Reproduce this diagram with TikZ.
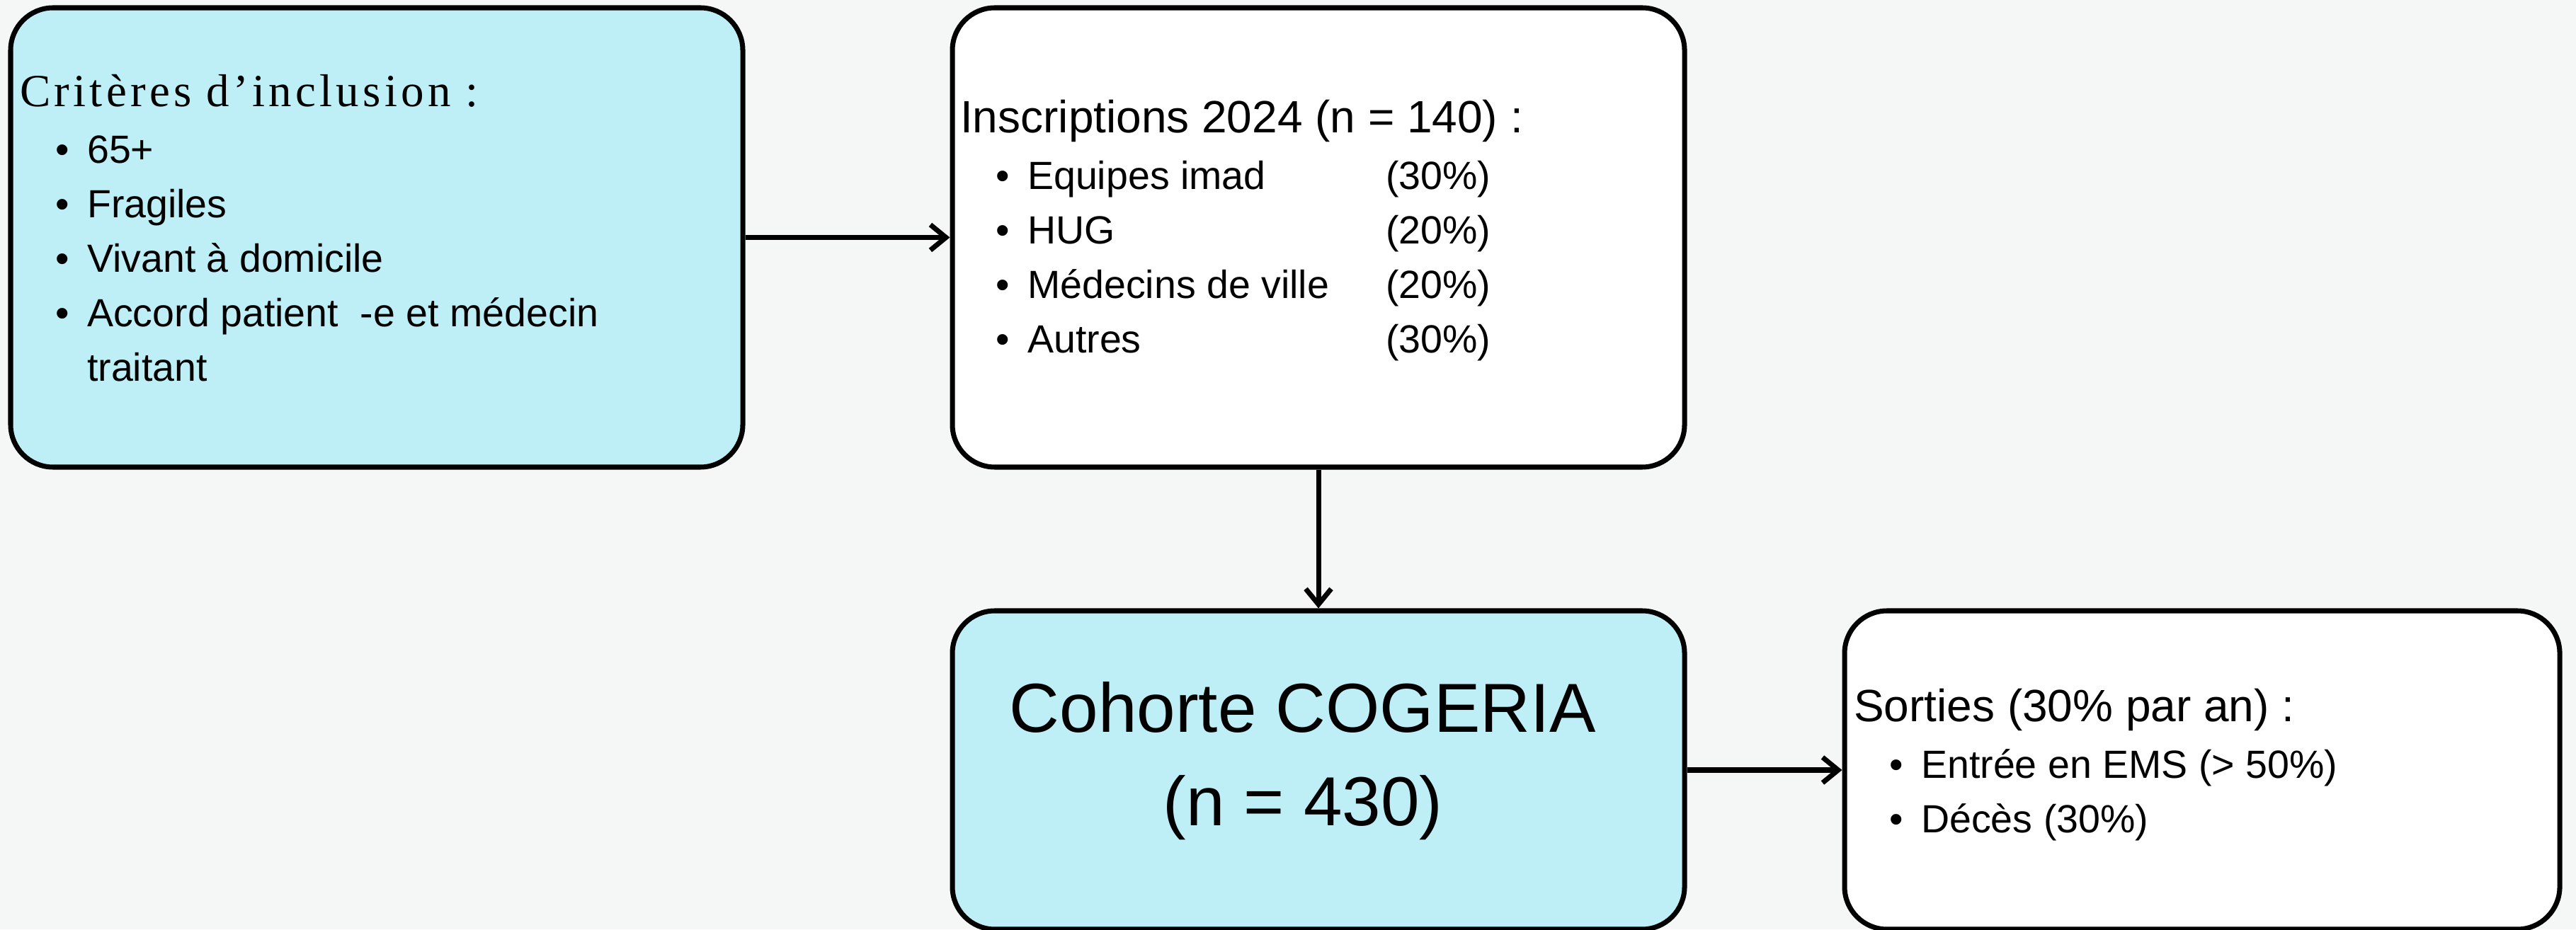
\documentclass[tikz,border=0pt]{standalone}
\usepackage{fontspec}
\setmainfont{Liberation Sans}
\newfontfamily\critfont[LetterSpace=8]{Liberation Serif}
\usepackage{xcolor}
\usepackage{tikz}
\usetikzlibrary{arrows.meta}
\definecolor{fondgris}{HTML}{F5F7F7}
\definecolor{cyanclair}{HTML}{BEEFF6}
\newcommand{\puce}[1]{\hspace*{0.5cm}\makebox[0.45cm][l]{\textbullet}#1}

\begin{document}
\begin{tikzpicture}[
    boite/.style={draw, line width=2pt, rounded corners=0.6cm, inner sep=0pt},
    texte/.style={align=left, inner sep=0pt, anchor=west, font=\fontsize{15.8}{21.9}\selectfont},
    fleche/.style={line width=2pt, -{Straight Barb[length=0.22cm,width=0.36cm]}}
  ]
    % Fond
    \fill[fondgris] (0,0) rectangle (36.38,13.13);
    \useasboundingbox (0,0) rectangle (36.38,13.13);

    % Boites
    \node[boite, fill=cyanclair, minimum width=10.34cm, minimum height=6.49cm] (crit) at (5.32,9.775) {};
    \node[boite, fill=white, minimum width=10.34cm, minimum height=6.49cm] (insc) at (18.62,9.775) {};
    \node[boite, fill=cyanclair, minimum width=10.34cm, minimum height=4.50cm] (coho) at (18.62,2.25) {};
    \node[boite, fill=white, minimum width=10.10cm, minimum height=4.50cm] (sort) at (31.10,2.25) {};

    % Textes
    \node[texte] (crittxt) at ([xshift=0.16cm, yshift=0.135cm]crit.west) {%
      {\critfont\fontsize{18.5}{21.9}\selectfont Critères d’inclusion :}\\[0.03cm]
      \puce{65+}\\
      \puce{Fragiles}\\
      \puce{Vivant à domicile}\\
      \puce{Accord patient~~-e et médecin}\\
      \hspace*{0.95cm}traitant};
    \node[texte] (insctxt) at ([xshift=0.14cm, yshift=0.095cm]insc.west) {%
      {\fontsize{18.2}{21.9}\selectfont Inscriptions 2024 (n = 140) :}\\[0.03cm]
      \puce{\makebox[5.06cm][l]{Equipes imad}(30\%)}\\
      \puce{\makebox[5.06cm][l]{HUG}(20\%)}\\
      \puce{\makebox[5.06cm][l]{Médecins de ville}(20\%)}\\
      \puce{\makebox[5.06cm][l]{Autres}(30\%)}};
    \node[align=center, inner sep=0pt, font=\fontsize{27.9}{37.6}\selectfont] (cohotxt)
      at ([xshift=-0.22cm, yshift=0.125cm]coho.center) {Cohorte COGERIA\\(n = 430)};
    \node[texte] (sorttxt) at ([xshift=0.16cm, yshift=0.072cm]sort.west) {%
      {\fontsize{18.2}{21.9}\selectfont Sorties (30\% par an) :}\\[0.03cm]
      \puce{Entrée en EMS (> 50\%)}\\
      \puce{Décès (30\%)}};

    % Fleches
    \draw[fleche] (crit) -- (insc);
    \draw[fleche] (insc) -- (coho);
    \draw[fleche] (coho) -- (sort);
\end{tikzpicture}
\end{document}
